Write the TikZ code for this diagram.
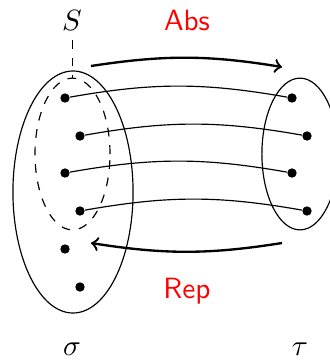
\documentclass[tikz,border=0pt]{standalone}
\tikzset{
    pt/.style={circle,fill,inner sep=0pt,minimum size=3.2pt},
    lbl/.style={anchor=base,text=red,font=\sffamily},
    map/.style={->,thick,bend left=9}
}
\begin{document}
\begin{tikzpicture}[x=0.3413pt,y=-0.3413pt]
    \useasboundingbox (0,0) rectangle (329,361);

    % Sets
    \draw (73,192) ellipse [x radius=20.5pt, y radius=41.3pt];
    \draw[dashed] (72.5,154) ellipse [x radius=12.8pt, y radius=25.9pt];
    \draw (300,154) ellipse [x radius=13pt, y radius=25.9pt];

    % Points of sigma and tau
    \foreach \i/\x/\y in {1/65/98, 2/80/136, 3/65/173, 4/80/211, 5/65/249, 6/80/287} {
        \node[pt] (s\i) at (\x,\y) {};
    }
    \foreach \i/\x/\y in {1/292/98, 2/307/136, 3/292/173, 4/307/211} {
        \node[pt] (t\i) at (\x,\y) {};
    }
    \foreach \i in {1,...,4} {
        \draw (s\i) to[bend left=10] (t\i);
    }

    % Subset S
    \node[anchor=base] (S) at (72,30) {$S$};
    \coordinate (Stop) at (72.5,78);
    \draw[dashed] (72.5,40) -- (Stop);

    % Abs and Rep
    \coordinate (a0) at (91,66);
    \coordinate (a1) at (282,67);
    \coordinate (r0) at (282,243);
    \coordinate (r1) at (91,243);
    \draw[map] (a0) to (a1);
    \draw[map] (r0) to (r1);
    \node[lbl] (abs) at (187,30) {Abs};
    \node[lbl] (rep) at (187,298) {Rep};

    % Names
    \node[anchor=base] (sigma) at (72,355) {$\sigma$};
    \node[anchor=base] (tau) at (300,355) {$\tau$};
\end{tikzpicture}
\end{document}
